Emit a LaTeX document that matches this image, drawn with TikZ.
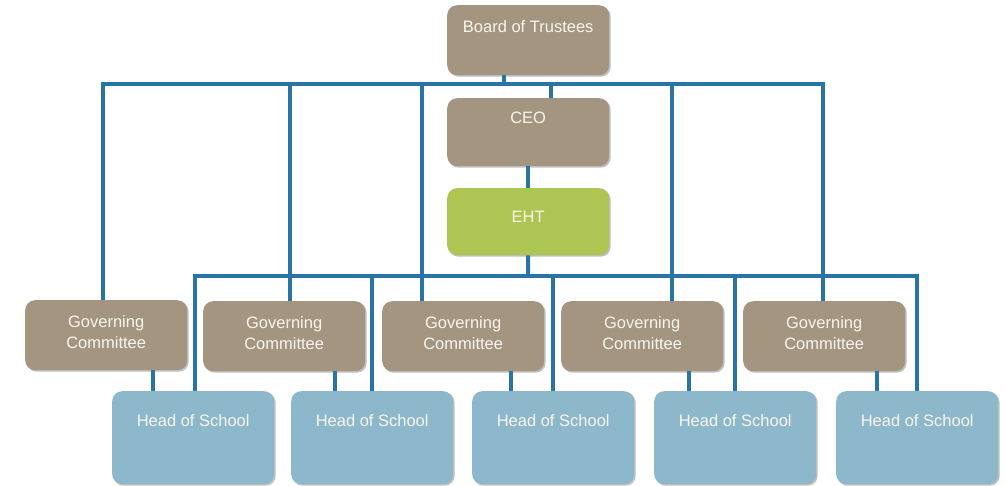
\documentclass[tikz,border=0pt]{standalone}
\usepackage{fontspec}
\setmainfont{Liberation Sans}
\usetikzlibrary{
    positioning,
    calc,
    shadows
}
\definecolor{taupe}{RGB}{163, 149, 128}
\definecolor{ehtgreen}{RGB}{173, 197, 83}
\definecolor{hosblue}{RGB}{141, 184, 203}
\definecolor{linkblue}{RGB}{40, 116, 166}
\definecolor{cream}{RGB}{250, 246, 238}

\begin{document}
\begin{tikzpicture}[
        x=1pt, y=-1pt,
        box/.style={rectangle, rounded corners=10pt, anchor=north west, inner sep=0pt, minimum width=162pt, align=center, text=cream, font=\fontsize{16.5}{21}\selectfont, drop shadow={shadow xshift=1.5pt, shadow yshift=-1.5pt, fill=black, opacity=0.25}},
        gc/.style={box, fill=taupe, text height=27pt, text depth=43pt},
        hos/.style={box, fill=hosblue, text height=35pt, text depth=58pt},
        link/.style={draw=linkblue, line width=4pt}
    ]
        \useasboundingbox (0,0) rectangle (1006,486);

        % Top of the chart
        \node[box, fill=taupe, text height=27pt, text depth=43pt] (board) at (447,5) {Board of Trustees};
        \node[box, fill=taupe, text height=25pt, text depth=43pt] (ceo) at (447,98) {CEO};
        \node[box, fill=ehtgreen, text height=34pt, text depth=33pt] (eht) at (447,188) {EHT};

        % Governing committees
        \node[gc] (gc1) at (25,300) {\begin{tabular}[t]{@{}c@{}}Governing\\Committee\end{tabular}};
        \node[gc] (gc2) at (203,301) {\begin{tabular}[t]{@{}c@{}}Governing\\Committee\end{tabular}};
        \node[gc] (gc3) at (382,301) {\begin{tabular}[t]{@{}c@{}}Governing\\Committee\end{tabular}};
        \node[gc] (gc4) at (561,301) {\begin{tabular}[t]{@{}c@{}}Governing\\Committee\end{tabular}};
        \node[gc] (gc5) at (743,301) {\begin{tabular}[t]{@{}c@{}}Governing\\Committee\end{tabular}};

        % Heads of school
        \node[hos] (hos1) at (112,391) {Head of School};
        \node[hos] (hos2) at (291,391) {Head of School};
        \node[hos] (hos3) at (472,391) {Head of School};
        \node[hos] (hos4) at (654,391) {Head of School};
        \node[hos] (hos5) at (836,391) {Head of School};

        % Bus lines
        \coordinate (bus1) at (528,84);
        \coordinate (bus2) at (528,276);

        % Board to governing committees
        \draw[link] ([xshift=-3pt]gc1.north) |- (bus1) -| ([xshift=-1pt]gc5.north);
        \draw[link] ([xshift=-24pt]board.south) -- ([xshift=-24pt]board.south |- bus1);
        \draw[link] ([xshift=6pt]gc2.north) -- ([xshift=6pt]gc2.north |- bus1);
        \draw[link] ([xshift=-41pt]gc3.north) -- ([xshift=-41pt]gc3.north |- bus1);
        \draw[link] ([xshift=30pt]gc4.north) -- ([xshift=30pt]gc4.north |- bus1);
        \draw[link] ([xshift=23pt]ceo.north) -- ([xshift=23pt]ceo.north |- bus1);

        % CEO to EHT to heads of school
        \draw[link] (ceo.south) -- (eht.north);
        \draw[link] (eht.south) -- (bus2);
        \draw[link] ([xshift=2pt]hos1.north) |- (bus2) -| (hos5.north);
        \draw[link] (hos2.north) -- (hos2.north |- bus2);
        \draw[link] (hos3.north) -- (hos3.north |- bus2);
        \draw[link] (hos4.north) -- (hos4.north |- bus2);

        % Governing committees to heads of school
        \draw[link] ([xshift=47pt]gc1.south) -- ([xshift=47pt]gc1.south |- hos1.north);
        \draw[link] ([xshift=51pt]gc2.south) -- ([xshift=51pt]gc2.south |- hos2.north);
        \draw[link] ([xshift=48pt]gc3.south) -- ([xshift=48pt]gc3.south |- hos3.north);
        \draw[link] ([xshift=47pt]gc4.south) -- ([xshift=47pt]gc4.south |- hos4.north);
        \draw[link] ([xshift=53pt]gc5.south) -- ([xshift=53pt]gc5.south |- hos5.north);
    \end{tikzpicture}
\end{document}
